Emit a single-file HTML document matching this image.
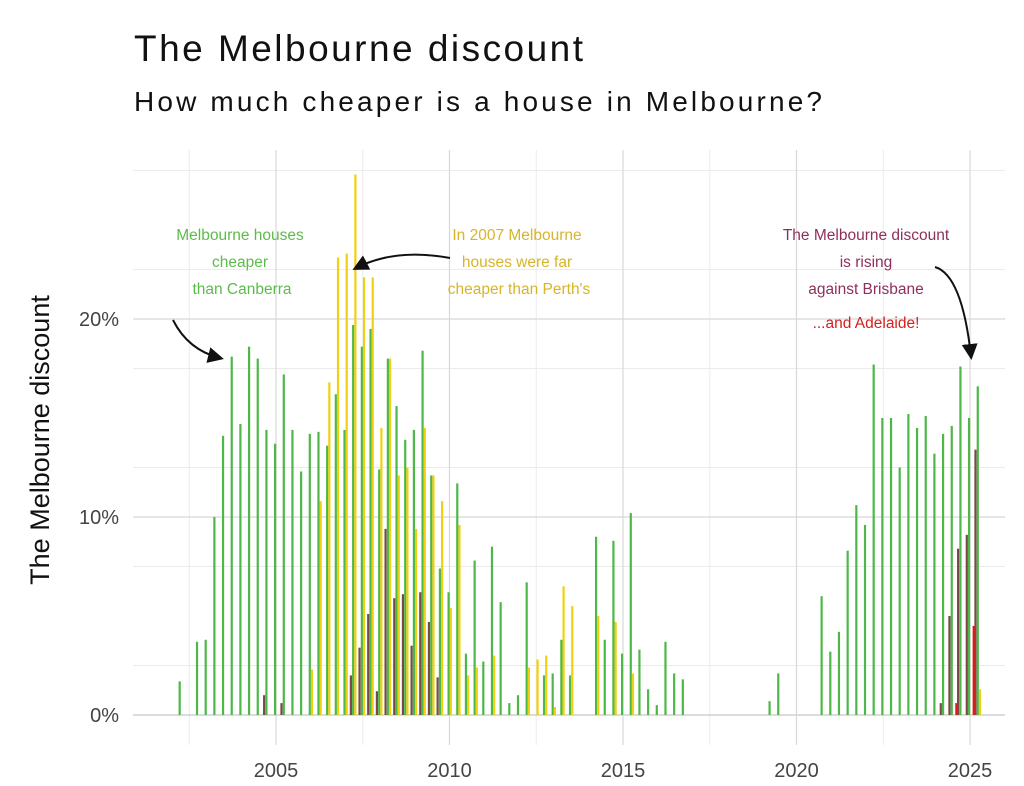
<!DOCTYPE html>
<html><head><meta charset="utf-8"><style>
html,body{margin:0;padding:0;background:#fff;}
svg{display:block;font-family:"Liberation Sans",sans-serif;}
</style></head><body>
<svg id="chart" width="1024" height="786" viewBox="0 0 1024 786" xmlns="http://www.w3.org/2000/svg">
<rect x="0" y="0" width="1024" height="786" fill="#fff"/>
<text x="134" y="61" font-size="37" fill="#111" textLength="449" lengthAdjust="spacing">The Melbourne discount</text>
<text x="134" y="111" font-size="28" fill="#111" textLength="688" lengthAdjust="spacing">How much cheaper is a house in Melbourne?</text>
<g id="grid"></g>
<g id="bars"></g>
<g id="axes"></g>
<text transform="translate(49,440) rotate(-90)" text-anchor="middle" font-size="27" fill="#111">The Melbourne discount</text>
<g font-size="15.5" fill="#5dbb4c" text-anchor="middle">
<text x="240" y="240">Melbourne houses</text><text x="240" y="267">cheaper</text><text x="242" y="294">than Canberra</text></g>
<g font-size="15.5" fill="#d6b52a" text-anchor="middle">
<text x="517" y="240">In 2007 Melbourne</text><text x="517" y="267">houses were far</text><text x="519" y="294">cheaper than Perth's</text></g>
<g font-size="15.5" fill="#8e2f5e" text-anchor="middle">
<text x="866" y="240">The Melbourne discount</text><text x="866" y="267">is rising</text><text x="866" y="294">against Brisbane</text></g>
<text x="866" y="328" font-size="15.5" fill="#d42020" text-anchor="middle">...and Adelaide!</text>
<defs><marker id="ah" markerWidth="8" markerHeight="8" refX="6" refY="4" orient="auto"><path d="M0,0 L8,4 L0,8 z" fill="#111"/></marker></defs>
<path d="M173,320 Q188,350 220,358" fill="none" stroke="#111" stroke-width="2" marker-end="url(#ah)"/>
<path d="M450,258 Q395,248 356,268" fill="none" stroke="#111" stroke-width="2" marker-end="url(#ah)"/>
<path d="M935,267 Q962,275 971,356" fill="none" stroke="#111" stroke-width="2" marker-end="url(#ah)"/>
</svg>
<script>
const years = [2002,2003,2004,2005,2006,2007,2008,2009,2010,2011,2012,2013,2014,2015,2016,2017,2018,2019,2020,2021,2022,2023,2024,2025];
const canberra = [0,1.7,0,3.7, 3.8,10.0,14.1,18.1, 14.7,18.6,18.0,14.4, 13.7,17.2,14.4,12.3, 14.2,14.3,13.6,16.2, 14.4,19.7,18.6,19.5, 12.4,18.0,15.6,13.9, 14.4,18.4,12.1,7.4, 6.2,11.7,3.1,7.8, 2.7,8.5,5.7,0.6, 1.0,6.7,0,2.0, 2.1,3.8,2.0,0, 0,9.0,3.8,8.8, 3.1,10.2,3.3,1.3, 0.5,3.7,2.1,1.8, 0,0,0,0, 0,0,0,0, 0,0.7,2.1,0, 0,0,0,6.0, 3.2,4.2,8.3,10.6, 9.6,17.7,15.0,15.0, 12.5,15.2,14.5,15.1, 13.2,14.2,14.6,17.6, 15.0,16.6];
const perth = [0,0,0,0, 0,0,0,0, 0,0,0,0, 0,0,0,0, 2.3,10.8,16.8,23.1, 23.3,27.3,22.1,22.1, 14.5,18.0,12.1,12.5, 9.4,14.5,12.1,10.8, 5.4,9.6,2.0,2.4, 0,3.0,0,0, 0,2.4,2.8,3.0, 0.4,6.5,5.5,0, 0,5.0,0,4.7, 0,2.1,0,0, 0,0,0,0, 0,0,0,0, 0,0,0,0, 0,0,0,0, 0,0,0,0, 0,0,0,0, 0,0,0,0, 0,0,0,0, 0,0,0,0, 0,1.3];
const brisbane = [0,0,0,0, 0,0,0,0, 0,0,0,1.0, 0,0.6,0,0, 0,0,0,0, 0,2.0,3.4,5.1, 1.2,9.4,5.9,6.1, 3.5,6.2,4.7,1.9, 0,0,0,0, 0,0,0,0, 0,0,0,0, 0,0,0,0, 0,0,0,0, 0,0,0,0, 0,0,0,0, 0,0,0,0, 0,0,0,0, 0,0,0,0, 0,0,0,0, 0,0,0,0, 0,0,0,0, 0,0,0,0, 0,0.6,5.0,8.4, 9.1,13.4];
const adelaide = [0,0,0,0, 0,0,0,0, 0,0,0,0, 0,0,0,0, 0,0,0,0, 0,0,0,0, 0,0,0,0, 0,0,0,0, 0,0,0,0, 0,0,0,0, 0,0,0,0, 0,0,0,0, 0,0,0,0, 0,0,0,0, 0,0,0,0, 0,0,0,0, 0,0,0,0, 0,0,0,0, 0,0,0,0, 0,0,0,0, 0,0,0,0, 0,0,0,0, 0,0,0.6,0, 4.5,0];
const xTicks = [2005,2010,2015,2020,2025];
const xTickLabels = ["2005","2010","2015","2020","2025"];
const yTicks = [0,10,20];
const yTickLabels = ["0%","10%","20%"];

const NS = "http://www.w3.org/2000/svg";
const X0 = 276, PXYR = 34.7, Y0 = 715, PXPCT = 19.8;
const xs = t => X0 + (t - 2005) * PXYR;
const ys = v => Y0 - v * PXPCT;
function mk(tag, attrs, parent){ const e = document.createElementNS(NS, tag); for (const k in attrs) e.setAttribute(k, attrs[k]); parent.appendChild(e); return e; }
const grid = document.getElementById('grid'), bars = document.getElementById('bars'), axes = document.getElementById('axes');
const L = 133, R = 1005, T = 150, B = 745;
[2.5,7.5,12.5,17.5,22.5,27.5].forEach(m => {
  const ln = mk('line', {x1:L, x2:R, y1:ys(m), y2:ys(m), stroke:'#ebebeb', 'stroke-width':1}, grid);
  
  
});
[2002.5,2007.5,2012.5,2017.5,2022.5].forEach(m => {
  const ln = mk('line', {x1:xs(m), x2:xs(m), y1:T, y2:B, stroke:'#ebebeb', 'stroke-width':1}, grid);
  
  
});
yTicks.forEach((v,i) => {
  const ln = mk('line', {x1:L, x2:R, y1:ys(v), y2:ys(v), stroke: v===0 ? '#c8c8c8' : '#d8d8d8', 'stroke-width':1.2}, grid);
  
  
  const tx = mk('text', {x:119, y:ys(v)+7, 'text-anchor':'end', 'font-size':20, fill:'#444'}, axes);
  tx.textContent = yTickLabels[i];
  
  
});
xTicks.forEach((t,i) => {
  const ln = mk('line', {x1:xs(t), x2:xs(t), y1:T, y2:B, stroke:'#d8d8d8', 'stroke-width':1.2}, grid);
  
  
  const tx = mk('text', {x:xs(t), y:777, 'text-anchor':'middle', 'font-size':20, fill:'#444'}, axes);
  tx.textContent = xTickLabels[i];
  
  
});
const series = [
  {vals: brisbane, off: -3.3, color: '#7a4848', name: 'brisbane-bar'},
  {vals: canberra, off: -1, color: '#4db848', name: 'canberra-bar'},
  {vals: perth, off: 1.2, color: '#f0d010', name: 'perth-bar'},
  {vals: adelaide, off: 3.6, color: '#e01a1a', name: 'adelaide-bar'}
];
series.forEach(s => {
  s.vals.forEach((v, i) => {
    if (!v) return;
    const t = years[0] + i * 0.25;
    const r = mk('rect', {x: xs(t) + s.off - 1, y: ys(v), width: 2.2, height: Y0 - ys(v), fill: s.color}, bars);
    
    
  });
});
</script>
</body></html>
